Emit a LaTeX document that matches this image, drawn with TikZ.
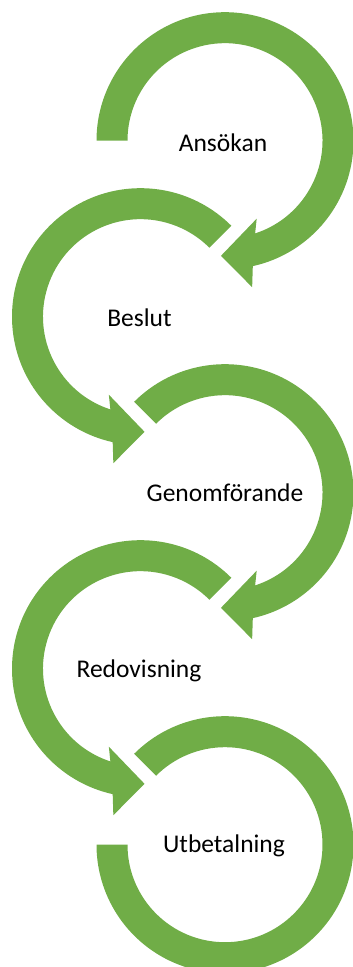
\documentclass[tikz,border=0pt]{standalone}
\usepackage{fontspec}
\setmainfont{Carlito}
\usetikzlibrary{positioning}
\definecolor{ringgreen}{HTML}{70AD47}

% one ring, from a start angle round clockwise to its arrow head
\newcommand{\ringarrow}[1]{%
  \fill[ring] (#1:128.5) arc[start angle=#1, end angle=-77.5, radius=128.5]
    -- (-79.5:149) -- (-92:115.2) -- (-67.9:84.2) -- (-72:97.5)
    arc[start angle=-72, end angle=#1, radius=97.5] -- cycle;
}

\begin{document}
\begin{tikzpicture}[x=1pt,y=1pt,
    ring/.style={fill=ringgreen},
    stagetext/.style={anchor=base,inner sep=0pt,font=\fontsize{25.5}{30}\selectfont}]
    \useasboundingbox (0,0) rectangle (353,967);

    \coordinate (c1) at (225,826.3);
    \coordinate (c2) at (140.5,650.3);
    \coordinate (c3) at (225,474.3);
    \coordinate (c4) at (140.5,298.3);
    \coordinate (c5) at (225,122.3);

    \begin{scope}[shift={(c1)}]
        \ringarrow{180}
    \end{scope}
    \begin{scope}[shift={(c2)},xscale=-1]
        \ringarrow{135}
    \end{scope}
    \begin{scope}[shift={(c3)}]
        \ringarrow{135}
    \end{scope}
    \begin{scope}[shift={(c4)},xscale=-1]
        \ringarrow{135}
    \end{scope}
    \begin{scope}[shift={(c5)}]
        % last ring has no head
        \fill[ring] (135:128.5) arc[start angle=135, end angle=-180, radius=128.5]
            -- (180:97.5) arc[start angle=-180, end angle=135, radius=97.5] -- cycle;
    \end{scope}

    \node[stagetext] (ansokan) at ([xshift=-2pt,yshift=-10.5pt]c1) {Ansökan};
    \node[stagetext] (beslut) at ([xshift=-1pt,yshift=-9.5pt]c2) {Beslut};
    \node[stagetext] (genomforande) at ([yshift=-9pt]c3) {Genomförande};
    \node[stagetext] (redovisning) at ([xshift=-1.5pt,yshift=-9pt]c4) {Redovisning};
    \node[stagetext] (utbetalning) at ([xshift=-1pt,yshift=-8pt]c5) {Utbetalning};
\end{tikzpicture}
\end{document}
